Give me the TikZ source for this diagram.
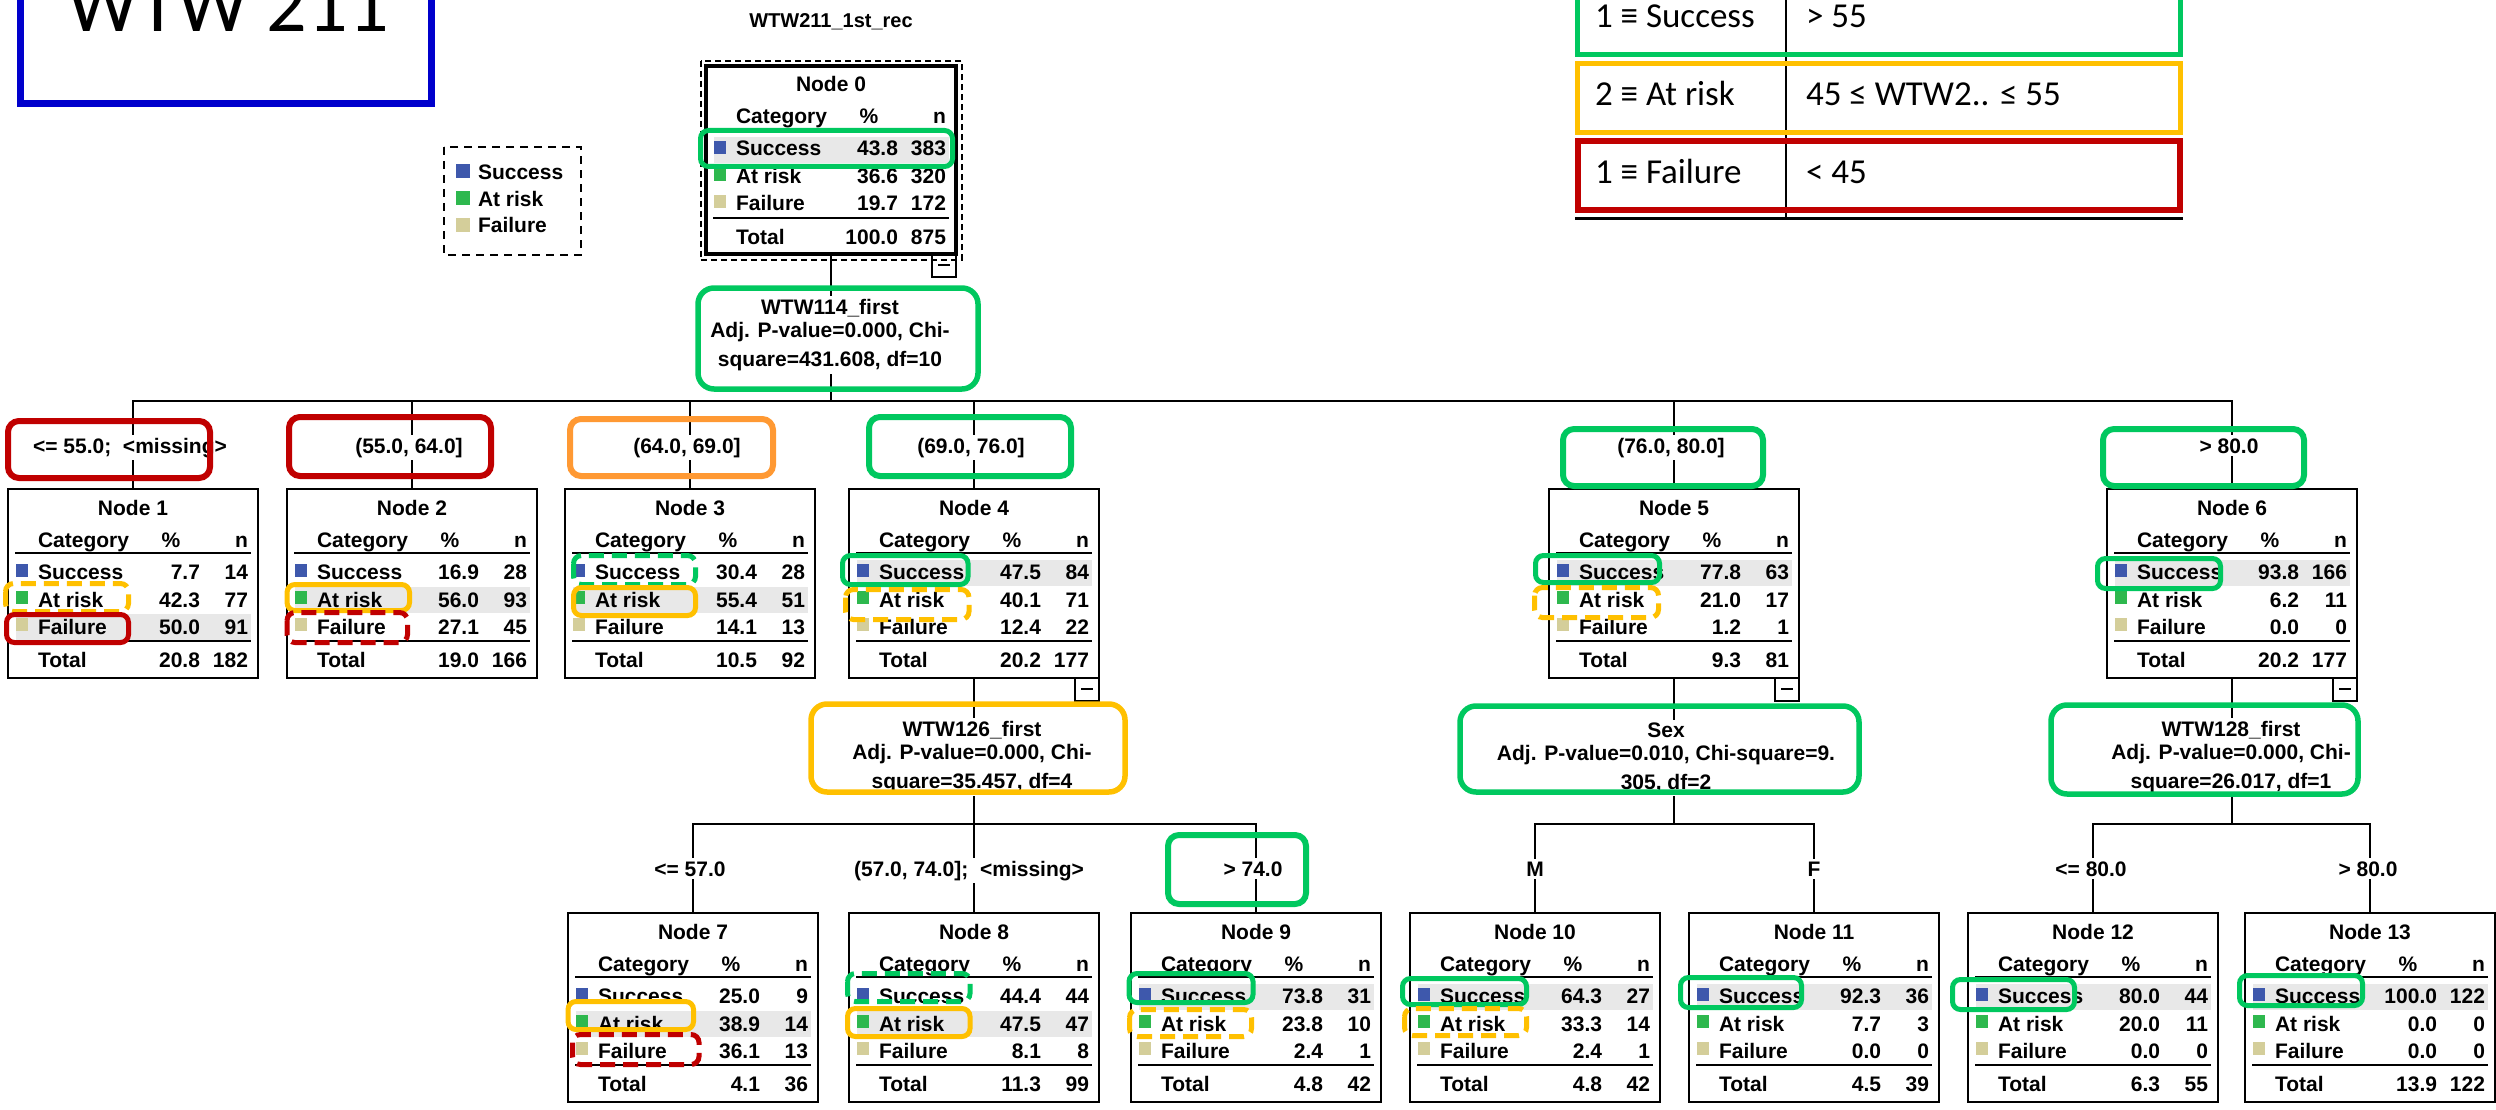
\documentclass[tikz,border=0pt]{standalone}
\usepackage{fontspec}
\setmainfont{Liberation Sans}
\newfontfamily\calib{Carlito}
\usetikzlibrary{calc}
\definecolor{sqblue}{RGB}{62,88,172}
\definecolor{sqgreen}{RGB}{46,184,78}
\definecolor{sqbeige}{RGB}{212,206,154}
\definecolor{rowgray}{RGB}{232,232,232}
\definecolor{hlgreen}{RGB}{0,200,95}
\definecolor{hlyellow}{RGB}{255,192,0}
\definecolor{hlred}{RGB}{192,0,0}
\definecolor{lborange}{RGB}{255,153,51}
\definecolor{titleblue}{RGB}{0,0,204}
\newcommand\tfont{\fontsize{21}{26}\selectfont\bfseries}
\newcommand\tabfont{\calib\fontsize{35}{40}\selectfont}
\tikzset{
  every node/.style={inner sep=0pt, outer sep=0pt, font=\tfont},
  tbox/.style={draw, line width=2.2pt, minimum width=250pt, minimum height=189pt},
  rootbox/.style={draw, line width=4pt, minimum width=250pt, minimum height=188pt},
  conn/.style={line width=2pt},
  brlabel/.style={fill=white, inner sep=3pt, anchor=base},
  splittext/.style={fill=white, align=center, inner sep=3pt},
  hl/.style={line width=5pt, rounded corners=8pt},
  hld/.style={hl, dash pattern=on 15pt off 8pt},
  lbl/.style={line width=6pt, rounded corners=11pt},
  spl/.style={line width=5.5pt, rounded corners=16pt},
}
\newcommand\tbox[6][tbox]{%
  \node[#1, anchor=north west] (#2) at (#3,#4) {};
  \begin{scope}[shift={(#2.north west)}]
    \fill[rowgray] (8,{44+27*#6}) rectangle (243,{70+27*#6});
    \node[anchor=base] (#2-ti) at (125,26) {Node #5};
    \node[anchor=base west] (#2-hc) at (30,58) {Category};
    \node[anchor=base] (#2-hp) at (163,58) {\%};
    \node[anchor=base east] (#2-hn) at (240,58) {n};
    \draw[line width=2.5pt] (7,64) -- (243,64);
    \fill[sqblue] (8,75) rectangle (20,88);
    \fill[sqgreen] (8,102) rectangle (20,115);
    \fill[sqbeige] (8,129) rectangle (20,142);
    \node[anchor=base west] (#2-cs) at (30,90) {Success};
    \node[anchor=base west] (#2-ca) at (30,118) {At risk};
    \node[anchor=base west] (#2-cf) at (30,145) {Failure};
    \draw[line width=2.5pt] (7,152) -- (243,152);
    \node[anchor=base west] (#2-ct) at (30,178) {Total};
  \end{scope}}
\newcommand\tvals[9]{%
  \begin{scope}[shift={(#1.north west)}]
    \node[anchor=base east] (#1-sp) at (192,90) {#2};
    \node[anchor=base east] (#1-sn) at (240,90) {#3};
    \node[anchor=base east] (#1-ap) at (192,118) {#4};
    \node[anchor=base east] (#1-an) at (240,118) {#5};
    \node[anchor=base east] (#1-fp) at (192,145) {#6};
    \node[anchor=base east] (#1-fn) at (240,145) {#7};
    \node[anchor=base east] (#1-tp) at (192,178) {#8};
    \node[anchor=base east] (#1-tn) at (240,178) {#9};
  \end{scope}}
\newcommand\minusbox[1]{%
  \begin{scope}[shift={(#1.south east)}]
    \draw[line width=1.6pt] (-24,0) rectangle (0,23);
    \draw[line width=1.6pt] (-18,11) -- (-6,11);
  \end{scope}}
\begin{document}
\begin{tikzpicture}[x=1pt, y=-1pt]
\useasboundingbox (0,0) rectangle (2496,1110);
% ---- title box
\draw[titleblue, line width=7pt] (20.5,-60) rectangle (431.5,103.5);
\node[font={\calib\fontsize{80}{96}\selectfont}, anchor=base] (title) at (228,32) {WTW 211};
% ---- tree caption
\node[anchor=base, font={\fontsize{20}{24}\selectfont\bfseries}] (rec) at (831,28) {WTW211\_1st\_rec};
% ---- legend
\draw[line width=2pt, dash pattern=on 8pt off 6pt] (444,147) rectangle (581,255);
\fill[sqblue] (456,164) rectangle (470,178);
\fill[sqgreen] (456,191) rectangle (470,205);
\fill[sqbeige] (456,218) rectangle (470,232);
\node[anchor=base west] (lg1) at (478,179) {Success};
\node[anchor=base west] (lg2) at (478,206) {At risk};
\node[anchor=base west] (lg3) at (478,233) {Failure};
% ---- key table
\draw[line width=2pt] (1786,-20) -- (1786,218);
\draw[hlgreen, line width=5pt] (1577.5,-17.5) rectangle (2180.5,54.5);
\draw[hlyellow, line width=5pt] (1577.5,63.5) rectangle (2180.5,132.5);
\draw[hlred, line width=6pt] (1578,141) rectangle (2180,210);
\draw[line width=3pt] (1575,218) -- (2183,218);
\node[font=\tabfont, anchor=base west] (k1) at (1595,28) {1 ≡ Success};
\node[font=\tabfont, anchor=base west] (v1) at (1806,28) {> 55};
\node[font=\tabfont, anchor=base west] (k2) at (1595,106) {2 ≡ At risk};
\node[font=\tabfont, anchor=base west] (v2) at (1806,106) {45 ≤ WTW2.. ≤ 55};
\node[font=\tabfont, anchor=base west] (k3) at (1595,183) {1 ≡ Failure};
\node[font=\tabfont, anchor=base west] (v3) at (1806,183) {< 45};
% ---- node 0
\draw[line width=2pt, dash pattern=on 6pt off 4pt] (700.7,60.7) rectangle (961.7,260);
\tbox[rootbox]{n0}{706}{66}{0}{1}
\tvals{n0}{43.8}{383}{36.6}{320}{19.7}{172}{100.0}{875}
% ---- level 1
\tbox{n1}{8}{489}{1}{3}
\tvals{n1}{7.7}{14}{42.3}{77}{50.0}{91}{20.8}{182}
\tbox{n2}{287}{489}{2}{2}
\tvals{n2}{16.9}{28}{56.0}{93}{27.1}{45}{19.0}{166}
\tbox{n3}{565}{489}{3}{2}
\tvals{n3}{30.4}{28}{55.4}{51}{14.1}{13}{10.5}{92}
\tbox{n4}{849}{489}{4}{1}
\tvals{n4}{47.5}{84}{40.1}{71}{12.4}{22}{20.2}{177}
\tbox{n5}{1549}{489}{5}{1}
\tvals{n5}{77.8}{63}{21.0}{17}{1.2}{1}{9.3}{81}
\tbox{n6}{2107}{489}{6}{1}
\tvals{n6}{93.8}{166}{6.2}{11}{0.0}{0}{20.2}{177}
% ---- level 2
\tbox{n7}{568}{913}{7}{2}
\tvals{n7}{25.0}{9}{38.9}{14}{36.1}{13}{4.1}{36}
\tbox{n8}{849}{913}{8}{2}
\tvals{n8}{44.4}{44}{47.5}{47}{8.1}{8}{11.3}{99}
\tbox{n9}{1131}{913}{9}{1}
\tvals{n9}{73.8}{31}{23.8}{10}{2.4}{1}{4.8}{42}
\tbox{n10}{1410}{913}{10}{1}
\tvals{n10}{64.3}{27}{33.3}{14}{2.4}{1}{4.8}{42}
\tbox{n11}{1689}{913}{11}{1}
\tvals{n11}{92.3}{36}{7.7}{3}{0.0}{0}{4.5}{39}
\tbox{n12}{1968}{913}{12}{1}
\tvals{n12}{80.0}{44}{20.0}{11}{0.0}{0}{6.3}{55}
\tbox{n13}{2245}{913}{13}{1}
\tvals{n13}{100.0}{122}{0.0}{0}{0.0}{0}{13.9}{122}
% ---- minus boxes
\minusbox{n0}
\minusbox{n4}
\minusbox{n5}
\minusbox{n6}
% ---- connectors
\coordinate (b0) at (831,401);
\coordinate (b4) at (974,824);
\coordinate (b5) at (1674,824);
\coordinate (b6) at (2232,824);
\draw[conn] (n0.south) -- (b0);
\foreach \c in {n1,n2,n3,n4,n5,n6} {\draw[conn] (\c.north) |- (b0);}
\draw[conn] (n4.south) -- (b4);
\foreach \c in {n7,n8,n9} {\draw[conn] (\c.north) |- (b4);}
\draw[conn] (n5.south) -- (b5);
\foreach \c in {n10,n11} {\draw[conn] (\c.north) |- (b5);}
\draw[conn] (n6.south) -- (b6);
\foreach \c in {n12,n13} {\draw[conn] (\c.north) |- (b6);}
% ---- split texts
\node[splittext] (s0) at (830,335) {WTW114\_first\\[-3pt]Adj. P-value=0.000, Chi-\\[3pt]square=431.608, df=10};
\node[splittext] (s4) at (972,757) {WTW126\_first\\[-3pt]Adj. P-value=0.000, Chi-\\[3pt]square=35.457, df=4};
\node[splittext] (s5) at (1666,758) {Sex\\[-3pt]Adj. P-value=0.010, Chi-square=9.\\[3pt]305, df=2};
\node[splittext] (s6) at (2231,757) {WTW128\_first\\[-3pt]Adj. P-value=0.000, Chi-\\[3pt]square=26.017, df=1};
% ---- branch labels
\node[brlabel] (e1) at (130,453) {<= 55.0;\ \ <missing>};
\node[brlabel] (e2) at (409,453) {(55.0, 64.0]};
\node[brlabel] (e3) at (687,453) {(64.0, 69.0]};
\node[brlabel] (e4) at (971,453) {(69.0, 76.0]};
\node[brlabel] (e5) at (1671,453) {(76.0, 80.0]};
\node[brlabel] (e6) at (2229,453) {> 80.0};
\node[brlabel] (e7) at (690,876) {<= 57.0};
\node[brlabel] (e8) at (969,876) {(57.0, 74.0];\ \ <missing>};
\node[brlabel] (e9) at (1253,876) {> 74.0};
\node[brlabel] (e10) at (1535,876) {M};
\node[brlabel] (e11) at (1814,876) {F};
\node[brlabel] (e12) at (2091,876) {<= 80.0};
\node[brlabel] (e13) at (2368,876) {> 80.0};
% ---- annotation boxes: split nodes
\draw[spl, hlgreen] (698,288) rectangle (978,389);
\draw[spl, hlyellow] (811,704) rectangle (1125,792);
\draw[spl, hlgreen] (1460,706) rectangle (1859,792);
\draw[spl, hlgreen] (2051,705) rectangle (2358,794);
% ---- annotation boxes: branch labels
\draw[lbl, hlred] (8,421) rectangle (210,478);
\draw[lbl, hlred] (289,417) rectangle (491,476);
\draw[lbl, lborange] (570,419) rectangle (773,476);
\draw[lbl, hlgreen] (869,417) rectangle (1071,476);
\draw[lbl, hlgreen] (1563,429) rectangle (1763,486);
\draw[lbl, hlgreen] (2103,429) rectangle (2304,486);
\draw[lbl, hlgreen] (1168,835) rectangle (1306,904);
% ---- annotation boxes: rows
\draw[hl, hlgreen] (700.5,130.5) rectangle (952.5,166.5);
\draw[hld, hlyellow] (5.5,583.5) rectangle (128.5,611.5);
\draw[hl, hlred] (6.5,614.5) rectangle (128.5,642.5);
\draw[hl, hlyellow] (287,584.5) rectangle (409.5,610.5);
\draw[hld, hlred] (287,612.5) rectangle (407.5,642.5);
\draw[hld, hlgreen] (573.5,555.5) rectangle (695.5,584.5);
\draw[hl, hlyellow] (573.5,587.5) rectangle (695.5,615.5);
\draw[hl, hlgreen] (842.5,555.5) rectangle (968,584.5);
\draw[hld, hlyellow] (845.5,589.5) rectangle (969,619.5);
\draw[hl, hlgreen] (1535.5,555.5) rectangle (1659.5,582.5);
\draw[hld, hlyellow] (1534.5,587.5) rectangle (1658.5,617.5);
\draw[hl, hlgreen] (2097.5,558.5) rectangle (2220.5,588.5);
\draw[hl, hlyellow] (568,1001.5) rectangle (693.5,1029.5);
\draw[hld, hlred] (572.5,1034.5) rectangle (699,1064.5);
\draw[hld, hlgreen] (847.5,973.5) rectangle (970,1001.5);
\draw[hl, hlyellow] (847.5,1008.5) rectangle (970,1036.5);
\draw[hl, hlgreen] (1129,973.5) rectangle (1253,1002.5);
\draw[hld, hlyellow] (1129.5,1009.5) rectangle (1251.5,1036.5);
\draw[hl, hlgreen] (1402.5,978.5) rectangle (1526.5,1004.5);
\draw[hld, hlyellow] (1404.5,1008.5) rectangle (1526.5,1035.5);
\draw[hl, hlgreen] (1680.5,977.5) rectangle (1801.5,1007.5);
\draw[hl, hlgreen] (1952.5,979.5) rectangle (2074.5,1009.5);
\draw[hl, hlgreen] (2239.5,975.5) rectangle (2362.5,1005.5);
\end{tikzpicture}
\end{document}
